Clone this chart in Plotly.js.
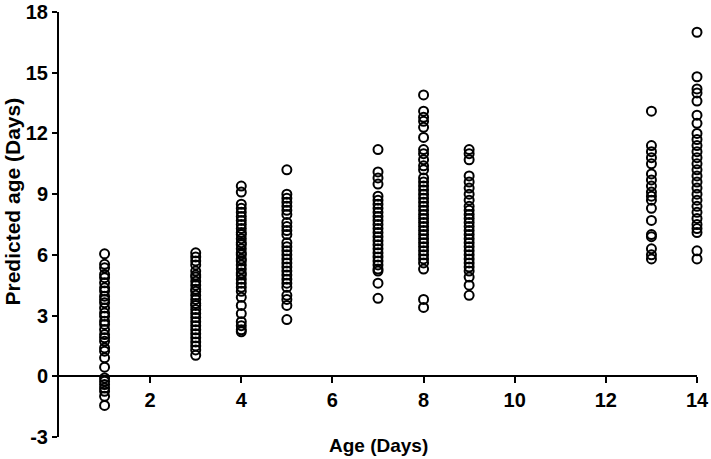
<!DOCTYPE html>
<html>
<head>
<meta charset="utf-8">
<script src="https://cdn.plot.ly/plotly-3.0.1.min.js"></script>
<style>
  html, body { margin: 0; padding: 0; background: #fff; }
  #chart { width: 711px; height: 459px; }
</style>
</head>
<body>
<div id="chart"></div>
<script>
// Predicted age per sampled age group (days)
const AGE_GROUPS = [1, 3, 4, 5, 7, 8, 9, 13, 14];

const PRED_1 = [6.05, 5.53, 5.36, 5.03, 4.87, 4.62, 4.37, 4.21, 3.96, 3.80, 3.63, 3.38, 3.13, 2.97,
  2.72, 2.56, 2.31, 2.06, 1.90, 1.73, 1.40, 1.24, 0.91, 0.45, -0.08, -0.25, -0.41, -0.58, -0.74, -0.99, -1.44];
const PRED_3 = [6.1, 5.9, 5.7, 5.5, 5.2, 5.0, 4.9, 4.7, 4.5, 4.3, 4.2, 4.0, 3.8, 3.6, 3.5, 3.3,
  3.1, 2.9, 2.7, 2.5, 2.3, 2.1, 1.9, 1.7, 1.5, 1.3, 1.04];
const PRED_4 = [9.4, 9.1, 8.5, 8.3, 8.1, 7.9, 7.7, 7.5, 7.3, 7.1, 7.0, 6.8, 6.6, 6.5, 6.3, 6.1,
  6.0, 5.8, 5.7, 5.5, 5.3, 5.1, 5.0, 4.8, 4.6, 4.4, 4.2, 3.9, 3.5, 3.1, 2.7, 2.5, 2.3, 2.2];
const PRED_5 = [10.2, 9.0, 8.8, 8.6, 8.4, 8.2, 8.0, 7.6, 7.4, 7.2, 7.0, 6.6, 6.4, 6.2, 6.0, 5.8,
  5.6, 5.4, 5.2, 5.0, 4.8, 4.6, 4.4, 4.0, 3.8, 3.5, 2.8];
const PRED_7 = [11.2, 10.1, 9.8, 9.5, 8.9, 8.7, 8.5, 8.3, 8.1, 7.9, 7.7, 7.5, 7.3, 7.1, 6.9, 6.7,
  6.5, 6.3, 6.1, 5.9, 5.7, 5.5, 5.3, 5.2, 4.6, 3.85];
const PRED_8 = [13.9, 13.1, 12.8, 12.6, 12.3, 11.8, 11.2, 11.0, 10.7, 10.4, 10.2, 9.8, 9.6, 9.4,
  9.2, 9.0, 8.8, 8.6, 8.4, 8.2, 8.0, 7.8, 7.6, 7.4, 7.2, 7.0, 6.8, 6.6, 6.4, 6.2, 6.0, 5.8, 5.6,
  5.3, 3.8, 3.4];
const PRED_9 = [11.2, 11.0, 10.7, 9.9, 9.6, 9.3, 9.0, 8.7, 8.4, 8.2, 8.0, 7.8, 7.6, 7.4, 7.2, 7.0,
  6.8, 6.6, 6.4, 6.2, 6.0, 5.8, 5.6, 5.4, 5.2, 4.9, 4.5, 4.0];
const PRED_13 = [13.1, 11.4, 11.1, 10.8, 10.5, 10.0, 9.7, 9.4, 9.1, 8.9, 8.7, 8.3, 7.7, 7.0, 6.9,
  6.3, 6.0, 5.8];
const PRED_14 = [17.0, 14.8, 14.2, 14.0, 13.6, 12.9, 12.5, 12.0, 11.7, 11.4, 11.1, 10.8, 10.5,
  10.2, 9.9, 9.6, 9.3, 9.0, 8.7, 8.4, 8.1, 7.8, 7.5, 7.3, 7.1, 6.2, 5.8];

const PREDICTIONS = [PRED_1, PRED_3, PRED_4, PRED_5, PRED_7, PRED_8, PRED_9, PRED_13, PRED_14];

const X_TICKS = [2, 4, 6, 8, 10, 12, 14];
const Y_TICKS = [-3, 0, 3, 6, 9, 12, 15, 18];
const Y_TICK_TEXT = ['-3', '0', '3', '6', '9', '12', '15', '18'];

const FONT = 'Liberation Sans, Arial, sans-serif';

const xs = [], ys = [];
AGE_GROUPS.forEach((age, i) => {
  PREDICTIONS[i].forEach(v => { xs.push(age); ys.push(v); });
});

const traces = [{
  x: xs, y: ys,
  type: 'scatter', mode: 'markers',
  cliponaxis: false,
  marker: { symbol: 'circle-open', size: 9, color: '#000', line: { color: '#000', width: 2 } },
  hoverinfo: 'x+y',
}];

const layout = {
  width: 711, height: 459,
  margin: { l: 59, r: 14, t: 12, b: 22 },
  paper_bgcolor: '#fff',
  plot_bgcolor: '#fff',
  showlegend: false,
  font: { family: FONT, size: 20, color: '#000', weight: 700 },
  xaxis: {
    range: [0, 14],
    anchor: 'free',
    position: 3 / 21,   // sits on y = 0
    tickvals: X_TICKS,
    ticks: 'outside', ticklen: 6, tickwidth: 2, tickcolor: '#000',
    showline: true, linecolor: '#000', linewidth: 2,
    showgrid: false, zeroline: false,
    tickfont: { family: FONT, size: 20, weight: 700 },
  },
  yaxis: {
    range: [-3, 18],
    tickvals: Y_TICKS,
    ticktext: Y_TICK_TEXT,
    ticks: 'outside', ticklen: 5, tickwidth: 2, tickcolor: '#000',
    showline: true, linecolor: '#000', linewidth: 2,
    showgrid: false, zeroline: false,
    tickfont: { family: FONT, size: 20, weight: 700 },
  },
  annotations: [
    {
      text: 'Age (Days)', xref: 'paper', yref: 'paper',
      x: 0.5, y: -0.019, xanchor: 'center', yanchor: 'middle',
      showarrow: false, font: { family: FONT, size: 19, weight: 700, color: '#000' },
    },
    {
      text: 'Predicted age (Days)', xref: 'paper', yref: 'paper',
      x: -0.073, y: 0.555, xanchor: 'center', yanchor: 'middle', textangle: -90,
      showarrow: false, font: { family: FONT, size: 21, weight: 700, color: '#000' },
    },
  ],
};

Plotly.newPlot('chart', traces, layout, { displayModeBar: false, staticPlot: true });
</script>
</body>
</html>
